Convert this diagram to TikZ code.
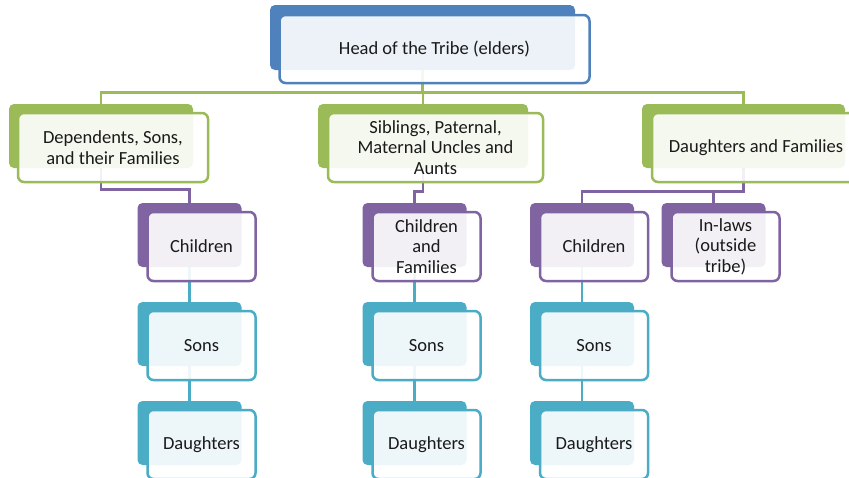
\documentclass[tikz,border=0pt]{standalone}
\usepackage{fontspec}
\setmainfont{Carlito}
\usetikzlibrary{backgrounds}
\definecolor{tribeblue}{HTML}{4F81BD}
\definecolor{tribegreen}{HTML}{9BBB59}
\definecolor{tribepurple}{HTML}{8064A2}
\definecolor{tribeteal}{HTML}{4BACC6}
\definecolor{tribetext}{HTML}{1A1A1A}

\begin{document}
\begin{tikzpicture}[x=1pt,y=-1pt,
    rearbox/.style={fill=#1, rounded corners=5pt, inner sep=0pt,
        minimum width=104pt, minimum height=64pt},
    topbox/.style={draw=#1, line width=2.5pt, fill=white, fill opacity=0.9,
        text opacity=1, text=tribetext, rounded corners=6pt, inner sep=0pt,
        minimum width=108pt, minimum height=69pt, align=center,
        font=\fontsize{18.5}{20.5}\selectfont},
    tieline/.style={draw=#1, line width=2.8pt}]
    \useasboundingbox (0,0) rectangle (849,477);
    \clip (0,0) rectangle (849,477);

    % head of the tribe
    \node[rearbox=tribeblue, minimum width=305pt, minimum height=65pt] (headb) at (422.5,37.5) {};
    \node[topbox=tribeblue, minimum width=310pt, minimum height=68pt] (head) at (434.5,49) {Head of the Tribe (elders)};

    % second row
    \node[rearbox=tribegreen, minimum width=184pt] (depb) at (101,136) {};
    \node[topbox=tribegreen, minimum width=190pt] (dep) at (113,147.5) {Dependents, Sons,\\and their Families};
    \node[rearbox=tribegreen, minimum width=210pt] (sibb) at (423,136) {};
    \node[topbox=tribegreen, minimum width=215pt] (sib) at (435.5,147.5) {Siblings, Paternal,\\Maternal Uncles and\\Aunts};
    \node[rearbox=tribegreen, minimum width=203pt] (famb) at (743.5,136) {};
    \node[topbox=tribegreen, minimum width=208pt] (fam) at (756,147.5) {Daughters and Families};

    % third row
    \node[rearbox=tribepurple] (kidbl) at (189.5,235) {};
    \node[topbox=tribepurple] (kidl) at (201.5,246.5) {Children};
    \node[rearbox=tribepurple] (kidbm) at (414.5,235) {};
    \node[topbox=tribepurple] (kidm) at (426.5,246.5) {Children\\and\\Families};
    \node[rearbox=tribepurple] (kidbr) at (582,235) {};
    \node[topbox=tribepurple] (kidr) at (594,246.5) {Children};
    \node[rearbox=tribepurple] (inlawb) at (713.5,235) {};
    \node[topbox=tribepurple] (inlaw) at (725.5,246.5) {In-laws\\(outside\\tribe)};

    % sons and daughters
    \foreach \n/\x in {l/189.5,m/414.5,r/582}{
        \node[rearbox=tribeteal] (sonb\n) at (\x,334) {};
        \node[topbox=tribeteal] (son\n) at (\x+12,345.5) {Sons};
        \node[rearbox=tribeteal] (dgtb\n) at (\x,433) {};
        \node[topbox=tribeteal] (dgt\n) at (\x+12,444.5) {Daughters};
    }

    % connectors
    \begin{scope}[on background layer]
        \fill[white] (0,0) rectangle (849,477);
        \foreach \c in {depb,sibb,famb}
            \draw[tieline=tribegreen] (headb.south) -- ++(0,22) -| (\c);
        \draw[tieline=tribepurple] (depb.south) -- ++(0,21) -| (kidbl);
        \draw[tieline=tribepurple] (sibb.south) -- ++(0,23) -| (kidbm);
        \foreach \c in {kidbr,inlawb}
            \draw[tieline=tribepurple] (famb.south) -- ++(0,23) -| (\c);
        \foreach \n in {l,m,r}
            \draw[tieline=tribeteal] (kidb\n) -- (sonb\n) (sonb\n) -- (dgtb\n);
    \end{scope}
\end{tikzpicture}
\end{document}
